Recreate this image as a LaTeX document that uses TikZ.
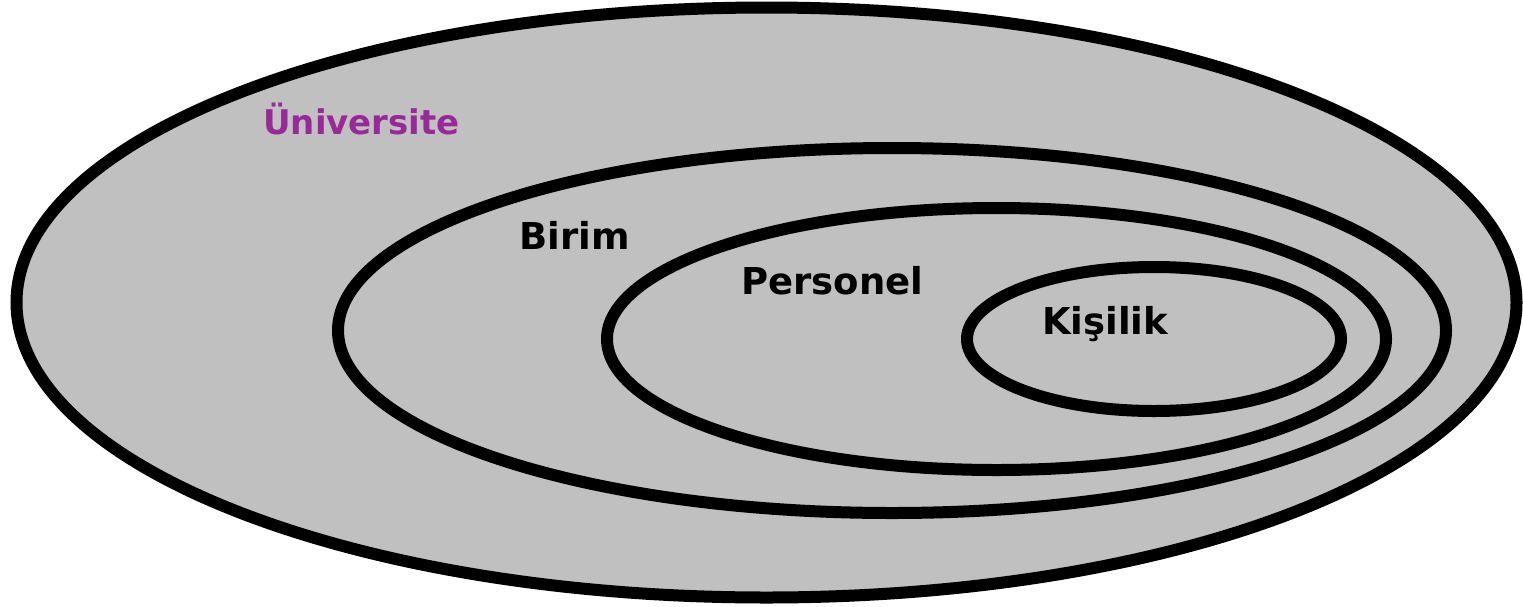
\documentclass[tikz,border=0pt]{standalone}
\usepackage{fontspec}
\setmainfont{DejaVu Sans}
\usetikzlibrary{shapes.geometric}
\definecolor{setgray}{RGB}{192,192,192}
\definecolor{unipurple}{RGB}{153,41,153}
\tikzset{
  setring/.style={ellipse, draw=black, fill=setgray, line width=12pt, inner sep=0pt},
  setlabel/.style={anchor=base west, inner sep=0pt, font=\fontsize{37}{40}\selectfont\bfseries}
}
\begin{document}
\begin{tikzpicture}[x=1pt,y=-1pt]
\useasboundingbox (0,0) rectangle (1523,606);
\node[setring, minimum width=1500pt, minimum height=590pt] (uni) at (766.5,302.5) {};
\node[setring, minimum width=1108pt, minimum height=365pt] (birim) at (892,330.5) {};
\node[setring, minimum width=779pt, minimum height=262pt] (pers) at (996.5,339) {};
\node[setring, minimum width=374pt, minimum height=144pt] (kisi) at (1154,339) {};
\node[setlabel, text=unipurple, font=\fontsize{34}{40}\selectfont\bfseries] (tuni) at (263,134) {Üniversite};
\node[setlabel] (tbirim) at (519,249) {Birim};
\node[setlabel] (tpers) at (741,294) {Personel};
\node[setlabel] (tkisi) at (1042,334) {Kişilik};
\end{tikzpicture}
\end{document}
